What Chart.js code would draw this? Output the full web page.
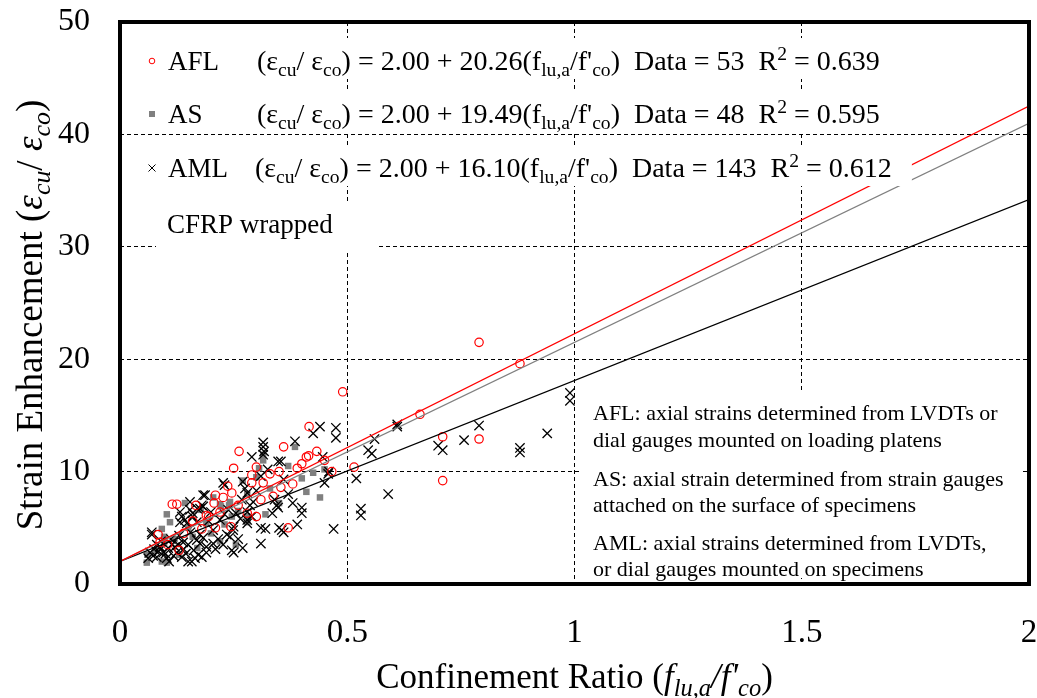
<!DOCTYPE html>
<html>
<head>
<meta charset="utf-8">
<script src="https://cdn.jsdelivr.net/npm/chart.js@4.4.1/dist/chart.umd.min.js"></script>
<style>
  html, body { margin: 0; padding: 0; background: #fff; }
  #wrap { width: 1037px; height: 698px; }
</style>
</head>
<body>
<div id="wrap"><canvas id="strainChart" width="1037" height="698"></canvas></div>
<script>
// ==============================
// DATA
// ==============================
const xTicks = [0, 0.5, 1, 1.5, 2];
const yTicks = [0, 10, 20, 30, 40, 50];

// AFL - red circles
const aflX = [0.79, 0.88, 0.49, 0.66, 0.71, 0.79, 0.71, 0.515, 0.416, 0.433, 0.41, 0.415, 0.40, 0.466, 0.36,
  0.39, 0.38, 0.354, 0.37, 0.262, 0.25, 0.30, 0.29, 0.29, 0.337, 0.31, 0.237, 0.227, 0.21, 0.207,
  0.246, 0.195, 0.30, 0.21, 0.244, 0.115, 0.125, 0.167, 0.084, 0.19, 0.315, 0.28, 0.088, 0.105,
  0.14, 0.16, 0.18, 0.22, 0.26, 0.33, 0.35, 0.45, 0.13];
const aflY = [21.5, 19.6, 17.1, 15.1, 13.1, 12.9, 9.2, 10.4, 14.0, 11.8, 11.3, 11.4, 10.7, 10.0, 12.2,
  10.3, 8.9, 8.6, 5.0, 11.8, 10.3, 10.4, 9.7, 9.0, 7.8, 7.5, 8.7, 7.7, 7.9, 7.2,
  8.1, 6.0, 6.0, 5.0, 5.1, 7.1, 7.1, 7.0, 4.4, 6.1, 9.0, 6.3, 3.7, 3.5,
  4.5, 5.6, 4.9, 6.4, 7.0, 9.8, 10.0, 11.0, 3.0];

// AS - grey squares
const asX = [0.425, 0.40, 0.41, 0.44, 0.385, 0.315, 0.306, 0.205, 0.222, 0.19, 0.246, 0.28, 0.255, 0.24,
  0.143, 0.103, 0.092, 0.097, 0.059, 0.092, 0.178, 0.097, 0.103, 0.28, 0.28, 0.28, 0.242, 0.22, 0.315,
  0.12, 0.15, 0.17, 0.13, 0.20, 0.23, 0.26, 0.33, 0.35, 0.30, 0.37, 0.45, 0.08, 0.11, 0.16, 0.22,
  0.32, 0.27, 0.06];
const asY = [9.9, 9.4, 8.2, 7.7, 12.2, 11.0, 10.3, 7.7, 6.9, 5.4, 6.0, 5.7, 3.5, 7.0,
  7.2, 6.2, 4.9, 3.6, 1.9, 2.0, 6.6, 4.2, 1.9, 5.5, 6.0, 8.0, 7.3, 7.1, 11.5,
  4.0, 5.0, 3.2, 2.6, 4.5, 5.3, 6.5, 8.5, 7.2, 9.5, 10.5, 10.2, 3.0, 5.5, 4.2, 3.8,
  6.2, 9.2, 2.6];

// AML - black crosses
const amlX = [0.99, 0.99, 0.94, 0.88, 0.88, 0.79, 0.757, 0.70, 0.71, 0.61, 0.61, 0.56, 0.546, 0.554,
  0.52, 0.59, 0.53, 0.53, 0.47, 0.46, 0.458, 0.45, 0.44, 0.425, 0.475, 0.475, 0.446, 0.385, 0.354,
  0.39, 0.36, 0.315, 0.315, 0.317, 0.315, 0.29, 0.348, 0.227, 0.23, 0.27, 0.275, 0.28, 0.268, 0.183,
  0.183, 0.176, 0.34, 0.345, 0.348, 0.255, 0.238, 0.28, 0.28, 0.31, 0.32, 0.35, 0.356, 0.25, 0.205,
  0.31, 0.205, 0.216, 0.227, 0.25, 0.19, 0.18, 0.176, 0.183, 0.07, 0.07, 0.132, 0.136, 0.143, 0.147,
  0.132, 0.16, 0.169, 0.066, 0.073, 0.062, 0.103, 0.081, 0.095, 0.106, 0.114, 0.121, 0.128, 0.139,
  0.125, 0.136, 0.15, 0.158, 0.165, 0.169, 0.176, 0.15, 0.081, 0.088, 0.187, 0.16, 0.17, 0.154,
  0.18, 0.154, 0.242, 0.249, 0.286, 0.293, 0.28, 0.246, 0.37, 0.40,
  0.075, 0.085, 0.09, 0.10, 0.108, 0.112, 0.118, 0.13, 0.14, 0.145, 0.155, 0.162, 0.172, 0.19,
  0.195, 0.20, 0.21, 0.22, 0.23, 0.235, 0.26, 0.265, 0.27, 0.29, 0.30, 0.31, 0.325, 0.335, 0.36,
  0.38, 0.40];
const amlY = [17.0, 16.3, 13.4, 12.1, 11.7, 14.1, 12.8, 12.3, 11.9, 14.2, 14.0, 12.9, 11.9, 11.6,
  9.4, 8.0, 6.7, 6.1, 4.9, 10.0, 9.8, 9.0, 14.0, 13.4, 13.9, 13.0, 11.3, 12.7, 10.9,
  5.3, 4.6, 12.6, 12.2, 11.8, 11.5, 11.3, 10.9, 9.0, 8.8, 9.1, 8.5, 8.1, 7.5, 7.9,
  6.9, 6.7, 7.5, 7.0, 6.8, 6.3, 6.6, 5.7, 5.4, 5.0, 4.9, 5.0, 4.8, 5.1, 4.8,
  3.6, 3.6, 4.0, 3.5, 2.8, 2.8, 2.4, 4.4, 4.1, 4.6, 4.4, 6.4, 6.0, 5.7, 5.4,
  5.5, 6.0, 5.5, 2.8, 2.5, 2.3, 2.3, 2.4, 2.8, 3.2, 3.5, 3.3, 3.5, 3.7,
  2.8, 2.4, 2.0, 2.0, 2.3, 3.9, 3.6, 3.5, 3.5, 3.3, 7.9, 6.3, 6.7, 6.6,
  7.0, 7.3, 4.2, 4.8, 7.0, 7.3, 6.4, 3.0, 8.0, 6.3,
  3.1, 2.9, 3.8, 2.7, 2.0, 4.0, 2.5, 4.3, 3.1, 2.7, 4.6, 3.0, 2.6, 3.3,
  5.6, 6.4, 3.1, 5.7, 6.2, 4.4, 4.0, 5.8, 3.2, 6.0, 8.3, 9.6, 10.2, 6.3, 9.3,
  7.2, 6.8];

// regression lines, end points at x = 0 and x = 2
const fitX = [0, 2];
const aflFit = [2.0, 42.52];
const asFit = [2.0, 40.98];
const amlFit = [2.0, 34.2];

// legend rows
const seriesNames = ["AFL", "AS", "AML"];
const slopes = ["20.26", "19.49", "16.10"];
const counts = ["53", "48", "143"];
const rSquared = ["0.639", "0.595", "0.612"];
const noteLines = [
  ["AFL: axial strains determined from LVDTs or", "dial gauges mounted on loading platens"],
  ["AS: axial strain determined from strain gauges", "attached on the surface of specimens"],
  ["AML: axial strains determined from LVDTs,", "or dial gauges mounted on specimens"]
];

const FONT = '"Liberation Serif", "Times New Roman", serif';

function pts(xs, ys) {
  return xs.map((x, i) => ({ x, y: ys[i] }));
}

// ==============================
// rich text (sub / superscripts)
// ==============================
function runFont(r, size) {
  const fs = r.s ? size * 0.7 : size;
  return (r.i ? "italic " : "") + fs + "px " + FONT;
}
function runsWidth(ctx, runs, size) {
  let w = 0;
  runs.forEach(r => { ctx.font = runFont(r, size); w += ctx.measureText(r.t).width; });
  return w;
}
function drawRuns(ctx, runs, x, y, size, align) {
  const w = runsWidth(ctx, runs, size);
  let cx = align === "center" ? x - w / 2 : x;
  ctx.textAlign = "left";
  ctx.textBaseline = "alphabetic";
  runs.forEach(r => {
    ctx.font = runFont(r, size);
    const dy = r.s === "sub" ? size * 0.22 : r.s === "sup" ? -size * 0.36 : 0;
    ctx.fillText(r.t, cx, y + dy);
    cx += ctx.measureText(r.t).width;
  });
  return w;
}

function legendMarker(ctx, i, x, y) {
  ctx.save();
  if (i === 0) {
    ctx.strokeStyle = "#ff0000"; ctx.lineWidth = 1;
    ctx.beginPath(); ctx.arc(x, y, 2.8, 0, Math.PI * 2); ctx.stroke();
  } else if (i === 1) {
    ctx.fillStyle = "#808080"; ctx.fillRect(x - 3, y - 3, 6, 6);
  } else {
    ctx.strokeStyle = "#000"; ctx.lineWidth = 1;
    ctx.beginPath();
    ctx.moveTo(x - 3.5, y - 3.5); ctx.lineTo(x + 3.5, y + 3.5);
    ctx.moveTo(x + 3.5, y - 3.5); ctx.lineTo(x - 3.5, y + 3.5);
    ctx.stroke();
  }
  ctx.restore();
}

const annotations = {
  id: "annotations",
  afterDatasetsDraw(chart) {
    const ctx = chart.ctx;
    const a = chart.chartArea;
    ctx.save();
    ctx.fillStyle = "#000";

    // legend rows with white boxes
    const size = 28;
    const bases = [a.top + 48, a.top + 101, a.top + 155];
    bases.forEach((b, i) => {
      const runs = [
        { t: "(ε" }, { t: "cu", s: "sub" }, { t: "/ ε" }, { t: "co", s: "sub" },
        { t: ") = 2.00 + " + slopes[i] + "(f" }, { t: "lu,a", s: "sub" }, { t: "/f'" },
        { t: "co", s: "sub" }, { t: ")  Data = " + counts[i] + "  R" }, { t: "2", s: "sup" },
        { t: " = " + rSquared[i] }
      ];
      const eqX = a.left + (i === 2 ? 135 : 137);
      const w = runsWidth(ctx, runs, size);
      ctx.fillStyle = "#fff";
      ctx.fillRect(a.left + 20, b - 32, eqX + w + 20 - (a.left + 20), 41);
      legendMarker(ctx, i, a.left + 32, b - 9);
      ctx.fillStyle = "#000";
      ctx.font = "27px " + FONT;
      ctx.textAlign = "left";
      ctx.textBaseline = "alphabetic";
      ctx.fillText(seriesNames[i], a.left + 48, b);
      drawRuns(ctx, runs, eqX, b, size, "left");
    });

    // CFRP wrapped
    const cb = a.top + 211;
    ctx.fillStyle = "#fff";
    ctx.fillRect(a.left + 36, cb - 31, 222, 48);
    ctx.fillStyle = "#000";
    ctx.font = "27px " + FONT;
    ctx.fillText("CFRP wrapped", a.left + 47, cb);

    // notes box bottom right
    ctx.fillStyle = "#fff";
    ctx.fillRect(582, 392, 440, 186);
    ctx.fillStyle = "#000";
    ctx.font = "22px " + FONT;
    const noteBases = [[420, 447], [486, 512], [550, 576]];
    noteLines.forEach((pair, i) => {
      pair.forEach((line, j) => ctx.fillText(line, 593, noteBases[i][j]));
    });
    ctx.restore();
  },
  afterDraw(chart) {
    const ctx = chart.ctx;
    const a = chart.chartArea;
    ctx.save();
    // frame
    ctx.strokeStyle = "#000";
    ctx.lineWidth = 4;
    ctx.strokeRect(a.left, a.top, a.right - a.left, a.bottom - a.top);

    ctx.fillStyle = "#000";
    // x title
    drawRuns(ctx, [
      { t: "Confinement Ratio (" }, { t: "f", i: 1 }, { t: "lu,a", i: 1, s: "sub" },
      { t: "/f'", i: 1 }, { t: "co", i: 1, s: "sub" }, { t: ")" }
    ], (a.left + a.right) / 2, 688, 35, "center");

    // y title
    ctx.translate(42, (a.top + a.bottom) / 2 + 12);
    ctx.rotate(-Math.PI / 2);
    drawRuns(ctx, [
      { t: "Strain Enhancement (" }, { t: "ε", i: 1 }, { t: "cu", i: 1, s: "sub" },
      { t: "/ " }, { t: "ε", i: 1 }, { t: "co", i: 1, s: "sub" }, { t: ")" }
    ], 0, 0, 37, "center");
    ctx.restore();
  }
};

// ==============================
// CHART
// ==============================
let strainChart = null;

function loadStrainChart() {
  const canvas = document.getElementById("strainChart");
  if (!canvas || typeof Chart === "undefined") return;
  const ctx = canvas.getContext("2d");
  if (strainChart) strainChart.destroy();

  strainChart = new Chart(ctx, {
    type: "scatter",
    data: {
      datasets: [
        {
          type: "line", label: "AFL fit", data: pts(fitX, aflFit),
          borderColor: "#ff0000", borderWidth: 1.3, pointRadius: 0, fill: false, order: 0
        },
        {
          type: "line", label: "AS fit", data: pts(fitX, asFit),
          borderColor: "#808080", borderWidth: 1.3, pointRadius: 0, fill: false, order: 0
        },
        {
          type: "line", label: "AML fit", data: pts(fitX, amlFit),
          borderColor: "#000000", borderWidth: 1.3, pointRadius: 0, fill: false, order: 0
        },
        {
          label: "AFL", data: pts(aflX, aflY), pointStyle: "circle", pointRadius: 4.2,
          borderColor: "#ff0000", backgroundColor: "rgba(0,0,0,0)", borderWidth: 1.2, order: 1
        },
        {
          label: "AML", data: pts(amlX, amlY), pointStyle: "crossRot", pointRadius: 6.6,
          borderColor: "#000000", borderWidth: 1.3, order: 2
        },
        {
          label: "AS", data: pts(asX, asY), pointStyle: "rect", pointRadius: 4.6,
          borderColor: "#808080", backgroundColor: "#808080", borderWidth: 0, order: 3
        }
      ]
    },
    options: {
      responsive: false,
      animation: false,
      devicePixelRatio: 1,
      layout: { padding: { top: 22, right: 8, left: 0, bottom: 0 } },
      plugins: { legend: { display: false }, tooltip: { enabled: false } },
      scales: {
        x: {
          type: "linear", min: 0, max: 2,
          afterFit: s => { s.height = 114; s.paddingLeft = 0; s.paddingRight = 0; },
          afterBuildTicks: s => { s.ticks = xTicks.map(v => ({ value: v })); },
          grid: { color: "#000", lineWidth: 1, drawTicks: false },
          border: { display: false, dash: [4, 3] },
          ticks: {
            color: "#000", font: { family: FONT, size: 33 }, padding: 30, maxRotation: 0,
            callback: v => String(v)
          }
        },
        y: {
          type: "linear", min: 0, max: 50,
          afterFit: s => { s.width = 120; s.paddingTop = 0; s.paddingBottom = 0; },
          afterBuildTicks: s => { s.ticks = yTicks.map(v => ({ value: v })); },
          grid: { color: "#000", lineWidth: 1, drawTicks: false },
          border: { display: false, dash: [4, 3] },
          ticks: { color: "#000", font: { family: FONT, size: 32 }, padding: 30 }
        }
      }
    },
    plugins: [annotations]
  });
}

loadStrainChart();
</script>
</body>
</html>
